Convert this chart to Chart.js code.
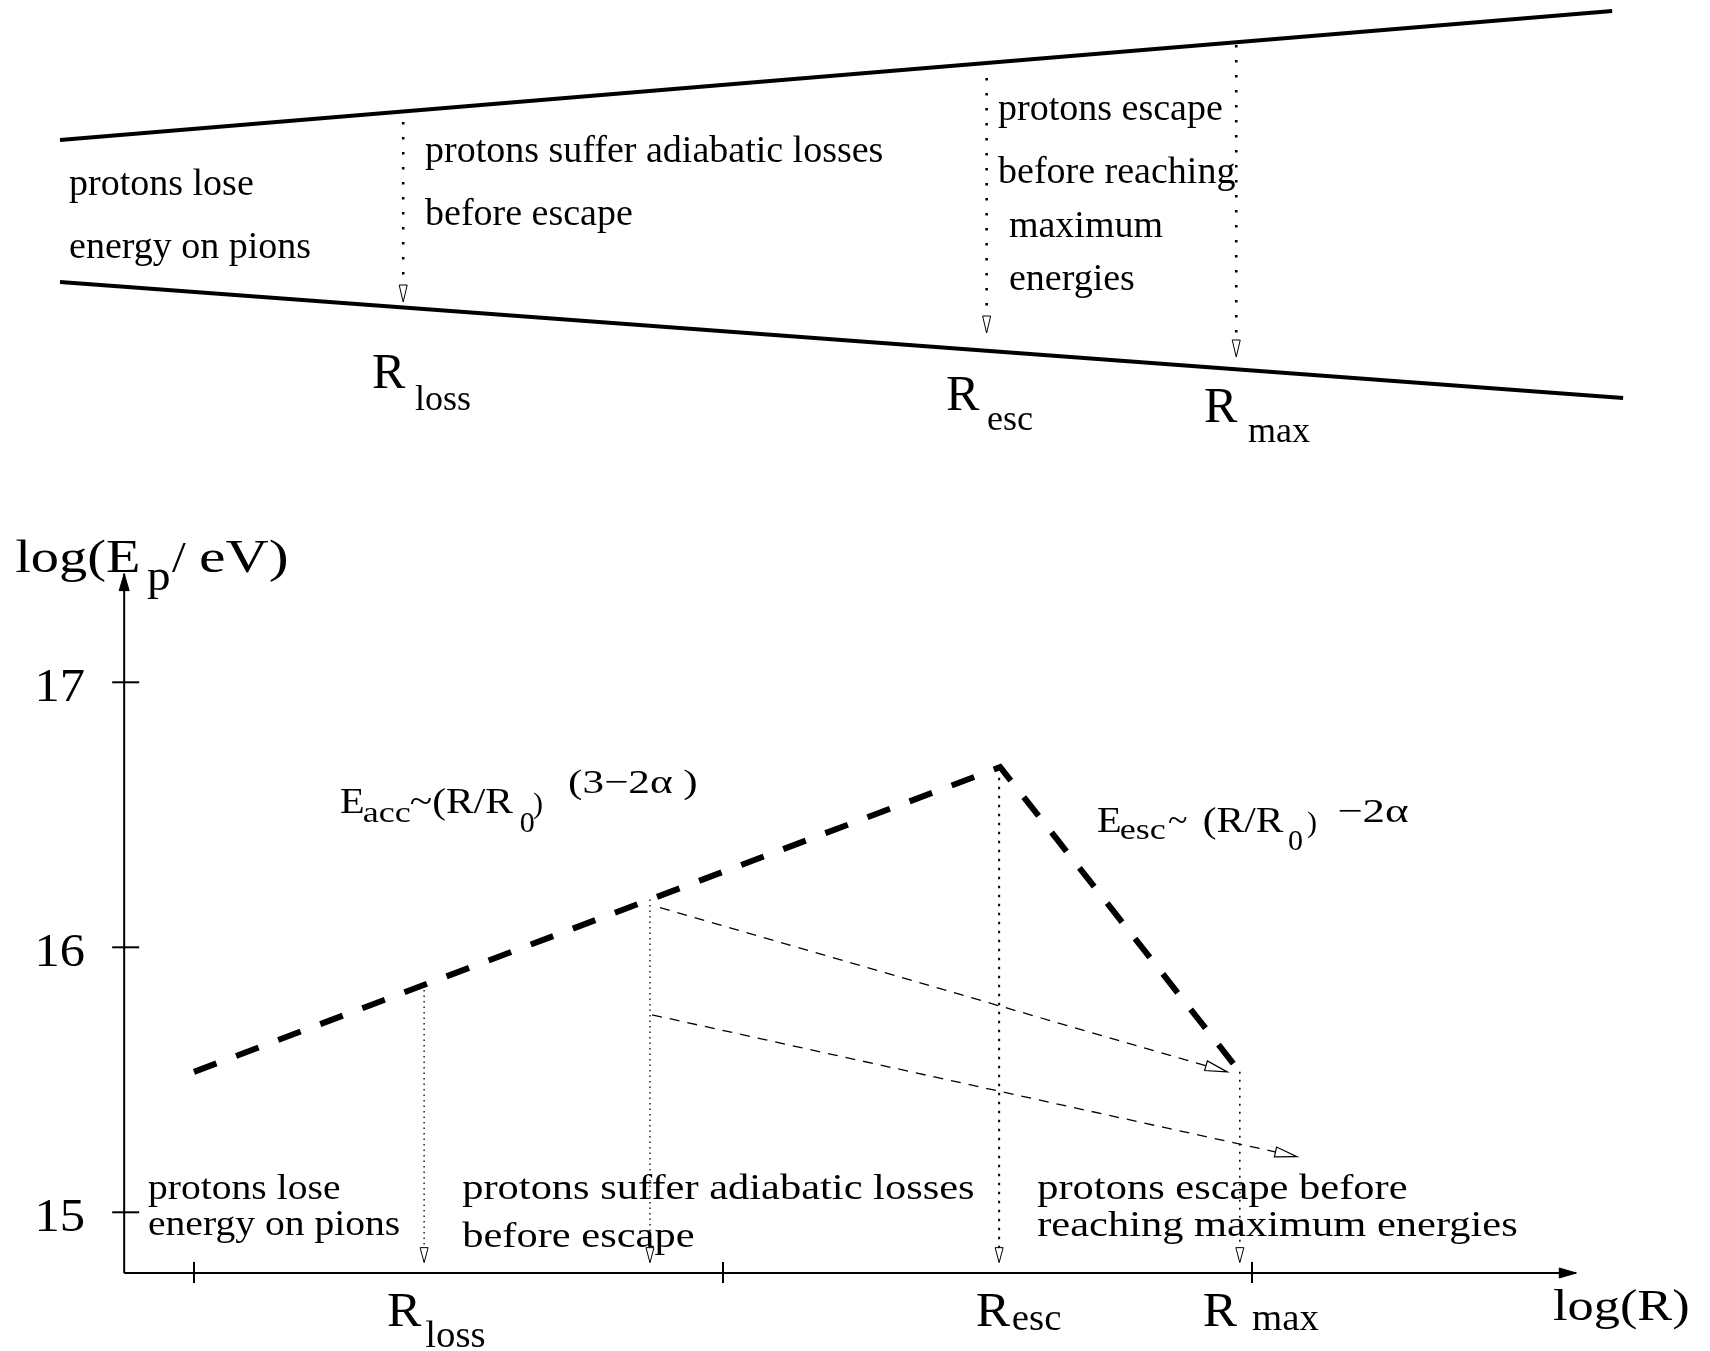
<!DOCTYPE html>
<html>
<head>
<meta charset="utf-8">
<script src="https://cdn.jsdelivr.net/npm/chart.js@4.4.0/dist/chart.umd.min.js"></script>
<style>
  html, body { margin: 0; padding: 0; background: #ffffff; }
  canvas { display: block; }
</style>
</head>
<body>
<canvas id="c" width="1710" height="1351"></canvas>
<script>
// ================= DATA =================
// Lower panel: log(E_p / eV) versus log(R) (arbitrary log(R) units, ticks at 0,1,2)
const logRTicks      = [0, 1, 2];
const logETicks      = [15, 16, 17];
const logETickLabels = ['15', '16', '17'];

// maximum energy envelope: acceleration branch then escape branch
const envelopeLogR = [0, 1.524, 1.977];
const envelopeLogE = [15.53, 16.68, 15.53];

// vertical drop lines to the log(R) axis (R_loss, break, R_esc, R_max)
const dropLogR       = [0.435, 0.862, 1.522, 1.977];
const dropTopLogE    = [15.86, 16.18, 16.64, 15.53];
const dropBottomLogE = [14.81, 14.81, 14.81, 14.81];

// thin dashed cooling tracks
const track1LogR = [0.881, 1.953];
const track1LogE = [16.15, 15.53];
const track2LogR = [0.866, 2.085];
const track2LogE = [15.745, 15.21];

// axis extent
const axisLogR = [-0.132, 2.613];
const axisLogE = [14.771, 17.41];

// Upper panel: jet cone (z along jet, w transverse), arbitrary units
const jetUpperZ = [0, 9.95];
const jetUpperW = [7.0, 19.9];
const jetLowerZ = [0, 10.02];
const jetLowerW = [-7.2, -18.8];
const jetDropZ       = [2.2, 5.94, 7.54];
const jetDropTopW    = [8.8, 13.2, 16.5];
const jetDropBottomW = [-9.2, -12.3, -14.7];

// texts
const jetTexts = ['protons lose', 'energy on pions', 'protons suffer adiabatic losses', 'before escape',
                  'protons escape', 'before reaching', 'maximum', 'energies'];
const regionTexts = ['protons lose', 'energy on pions', 'protons suffer adiabatic losses', 'before escape',
                     'protons escape before', 'reaching maximum energies'];
const markNames = ['loss', 'esc', 'max'];

// ================= LAYOUT (positions / styles, not data) =================
const W = 1710, H = 1351;
const FRAMES = {
  x:  { v: 0,  px: 194,   k: 529, dir: 1 },
  y:  { v: 16, px: 947.3, k: 265, dir: -1 },
  xt: { v: 0,  px: 60,    k: 156, dir: 1 },
  yt: { v: 0,  px: 210,   k: 10,  dir: -1 }
};
function range(f, size) {
  if (f.dir === 1) return { min: f.v - f.px / f.k, max: f.v + (size - f.px) / f.k };
  return { min: f.v - (size - f.px) / f.k, max: f.v + f.px / f.k };
}

const jetTextAt = [[0.058, 1.5], [0.058, -4.8], [2.34, 4.8], [2.34, -1.5],
                   [6.013, 9.0], [6.013, 2.7], [6.083, -2.7], [6.083, -8.0]];
const regionTextAt = [[-0.087, 15.05], [-0.087, 14.915], [0.507, 15.05], [0.507, 14.87],
                      [1.594, 15.05], [1.594, 14.91]];
const regionTextStretch = [1.1, 1.1, 1.18, 1.18, 1.18, 1.18];

const jetMarkRAt   = [[2.0, -17.8], [5.679, -20.0], [7.333, -21.2]];
const jetMarkSubAt = [[2.276, -20.0], [5.942, -22.0], [7.615, -23.2]];
const plotMarkRAt   = [[0.365, 14.57], [1.478, 14.57], [1.907, 14.57]];
const plotMarkSubAt = [[0.437, 14.492], [1.546, 14.556], [2.0, 14.556]];

// [text, x, y, fontSize, horizontalStretch]
const eqAcc = [['E', 0.276, 16.507, 36, 1.12], ['acc', 0.319, 16.473, 30, 1.2],
               ['~(R/R', 0.408, 16.507, 36, 1.15], ['0', 0.616, 16.436, 30, 1],
               [')', 0.641, 16.507, 30, 1], ['(3\u22122\u03b1 )', 0.707, 16.583, 34, 1.27]];
const eqEsc = [['E', 1.707, 16.436, 36, 1.12], ['esc', 1.750, 16.41, 30, 1.2],
               ['~', 1.841, 16.436, 36, 1], ['(R/R', 1.907, 16.436, 36, 1.15],
               ['0', 2.068, 16.367, 30, 1], [')', 2.104, 16.436, 30, 1],
               ['\u22122\u03b1', 2.161, 16.473, 34, 1.32]];
const yTitle = [['log(E', -0.338, 17.416, 47, 1.2], ['p', -0.0888, 17.349, 45, 1.05],
                ['/', -0.0416, 17.416, 45, 1.1], ['eV)', 0.0095, 17.416, 46, 1.3]];
const xTitle = ['log(R)', 2.569, 14.594, 44, 1.19];

const dropStyles = [
  { w: 1.3, dash: [1.5, 4] }, { w: 1.3, dash: [1.5, 4] },
  { w: 2.0, dash: [2.5, 6.5] }, { w: 1.5, dash: [2, 6] }
];

const FONT = '"Liberation Serif", "Times New Roman", serif';

// ================= BUILD =================
function pts(xs, ys) { return xs.map((x, i) => ({ x: x, y: ys[i] })); }
function line(data, opts) {
  return Object.assign({
    data: data, showLine: true, borderColor: '#000', backgroundColor: '#000',
    pointRadius: 0, pointHoverRadius: 0, fill: false, tension: 0,
    borderCapStyle: 'butt', borderJoinStyle: 'miter', xAxisID: 'x', yAxisID: 'y'
  }, opts);
}

const datasets = [];
datasets.push(line(pts(envelopeLogR, envelopeLogE), { borderWidth: 6, borderDash: [24, 21] }));
dropLogR.forEach((r, i) => {
  datasets.push(line(pts([r, r], [dropTopLogE[i], dropBottomLogE[i]]),
    { borderWidth: dropStyles[i].w, borderDash: dropStyles[i].dash, arrow: { len: 15, half: 4, lw: 1 } }));
});
datasets.push(line(pts(track1LogR, track1LogE), { borderWidth: 1.3, borderDash: [10, 8], arrow: { len: 22, half: 5, lw: 1.2 } }));
datasets.push(line(pts(track2LogR, track2LogE), { borderWidth: 1.3, borderDash: [10, 8], arrow: { len: 22, half: 5, lw: 1.2 } }));
datasets.push(line(pts([axisLogR[0], axisLogR[1]], [axisLogE[0], axisLogE[0]]), { borderWidth: 2, arrow: { len: 17, half: 5, filled: true } }));
datasets.push(line(pts([axisLogR[0], axisLogR[0]], [axisLogE[0], axisLogE[1]]), { borderWidth: 2, arrow: { len: 17, half: 5, filled: true } }));
// jet schematic
datasets.push(line(pts(jetUpperZ, jetUpperW), { borderWidth: 4, xAxisID: 'xt', yAxisID: 'yt' }));
datasets.push(line(pts(jetLowerZ, jetLowerW), { borderWidth: 4, xAxisID: 'xt', yAxisID: 'yt' }));
jetDropZ.forEach((z, i) => {
  datasets.push(line(pts([z, z], [jetDropTopW[i], jetDropBottomW[i]]),
    { borderWidth: 2.6, borderDash: [2.5, 12.5], xAxisID: 'xt', yAxisID: 'yt', arrow: { len: 17, half: 4, lw: 1 } }));
});

function arrowHead(ctx, x0, y0, x1, y1, spec) {
  const ang = Math.atan2(y1 - y0, x1 - x0);
  const bx = x1 - spec.len * Math.cos(ang), by = y1 - spec.len * Math.sin(ang);
  const nx = -Math.sin(ang), ny = Math.cos(ang);
  ctx.save();
  ctx.setLineDash([]);
  ctx.beginPath();
  ctx.moveTo(x1, y1);
  ctx.lineTo(bx + nx * spec.half, by + ny * spec.half);
  ctx.lineTo(bx - nx * spec.half, by - ny * spec.half);
  ctx.closePath();
  ctx.fillStyle = spec.filled ? '#000' : '#fff';
  ctx.fill();
  ctx.lineWidth = spec.lw || 1;
  ctx.strokeStyle = '#000';
  ctx.lineJoin = 'miter';
  ctx.stroke();
  ctx.restore();
}

function drawText(ctx, s, px, py, size, sx, align) {
  ctx.save();
  ctx.font = size + 'px ' + FONT;
  ctx.fillStyle = '#000';
  ctx.textBaseline = 'alphabetic';
  ctx.textAlign = align || 'left';
  ctx.translate(px, py);
  ctx.scale(sx || 1, 1);
  ctx.fillText(s, 0, 0);
  ctx.restore();
}

const decor = {
  id: 'decor',
  afterDatasetsDraw(chart) {
    const ctx = chart.ctx;
    const sx = chart.scales.x, sy = chart.scales.y, tx = chart.scales.xt, ty = chart.scales.yt;

    // arrowheads
    chart.data.datasets.forEach((ds, i) => {
      if (!ds.arrow) return;
      const el = chart.getDatasetMeta(i).data;
      const a = el[el.length - 2], b = el[el.length - 1];
      arrowHead(ctx, a.x, a.y, b.x, b.y, ds.arrow);
    });

    // ticks
    const ax = sx.getPixelForValue(axisLogR[0]);
    const ay = sy.getPixelForValue(axisLogE[0]);
    ctx.save();
    ctx.strokeStyle = '#000';
    ctx.lineWidth = 2;
    ctx.setLineDash([]);
    logRTicks.forEach(v => {
      const p = sx.getPixelForValue(v);
      ctx.beginPath(); ctx.moveTo(p, ay - 11); ctx.lineTo(p, ay + 10); ctx.stroke();
    });
    logETicks.forEach(v => {
      const p = sy.getPixelForValue(v);
      ctx.beginPath(); ctx.moveTo(ax - 12, p); ctx.lineTo(ax + 15, p); ctx.stroke();
    });
    ctx.restore();
    logETicks.forEach((v, i) => {
      drawText(ctx, logETickLabels[i], ax - 39, sy.getPixelForValue(v) + 19, 46, 1.1, 'right');
    });

    // axis titles
    yTitle.forEach(t => drawText(ctx, t[0], sx.getPixelForValue(t[1]), sy.getPixelForValue(t[2]), t[3], t[4]));
    drawText(ctx, xTitle[0], sx.getPixelForValue(xTitle[1]), sy.getPixelForValue(xTitle[2]), xTitle[3], xTitle[4]);

    // equations
    eqAcc.concat(eqEsc).forEach(t => drawText(ctx, t[0], sx.getPixelForValue(t[1]), sy.getPixelForValue(t[2]), t[3], t[4]));

    // region texts (lower panel)
    regionTexts.forEach((s, i) => {
      drawText(ctx, s, sx.getPixelForValue(regionTextAt[i][0]), sy.getPixelForValue(regionTextAt[i][1]), 36, regionTextStretch[i]);
    });

    // R labels (lower panel)
    markNames.forEach((n, i) => {
      drawText(ctx, 'R', sx.getPixelForValue(plotMarkRAt[i][0]), sy.getPixelForValue(plotMarkRAt[i][1]), 49, 1.05);
      drawText(ctx, n, sx.getPixelForValue(plotMarkSubAt[i][0]), sy.getPixelForValue(plotMarkSubAt[i][1]), 37, 1.05);
    });

    // jet schematic texts
    jetTexts.forEach((s, i) => {
      drawText(ctx, s, tx.getPixelForValue(jetTextAt[i][0]), ty.getPixelForValue(jetTextAt[i][1]), 38, 1.0);
    });
    markNames.forEach((n, i) => {
      drawText(ctx, 'R', tx.getPixelForValue(jetMarkRAt[i][0]), ty.getPixelForValue(jetMarkRAt[i][1]), 50, 1.0);
      drawText(ctx, n, tx.getPixelForValue(jetMarkSubAt[i][0]), ty.getPixelForValue(jetMarkSubAt[i][1]), 36, 1.0);
    });
  }
};

const scaleBase = { type: 'linear', display: false, grid: { display: false } };
new Chart(document.getElementById('c'), {
  type: 'scatter',
  data: { datasets: datasets },
  options: {
    responsive: false,
    devicePixelRatio: 1,
    animation: false,
    events: [],
    layout: { padding: 0, autoPadding: false },
    plugins: { legend: { display: false }, tooltip: { enabled: false }, title: { display: false } },
    scales: {
      x:  Object.assign({}, scaleBase, { axis: 'x', position: 'bottom' }, range(FRAMES.x, W)),
      y:  Object.assign({}, scaleBase, { axis: 'y', position: 'left' },   range(FRAMES.y, H)),
      xt: Object.assign({}, scaleBase, { axis: 'x', position: 'top' },    range(FRAMES.xt, W)),
      yt: Object.assign({}, scaleBase, { axis: 'y', position: 'right' },  range(FRAMES.yt, H))
    }
  },
  plugins: [decor]
});
</script>
</body>
</html>
